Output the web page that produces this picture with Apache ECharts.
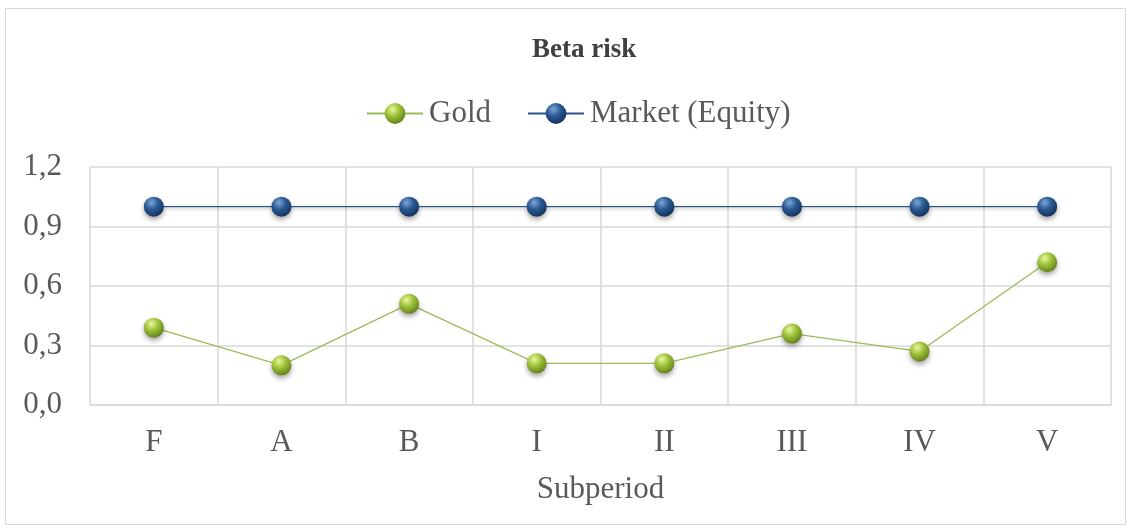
<!DOCTYPE html>
<html lang="en">
<head>
    <meta charset="UTF-8">
    <title>Beta risk</title>
    <script src="https://cdn.jsdelivr.net/npm/echarts@6/dist/echarts.min.js"></script>
    <style>
        html, body { margin: 0; padding: 0; background: #ffffff; }
        #chart { width: 1132px; height: 531px; }
    </style>
</head>
<body>
    <div id="chart"></div>
    <script>
        // data
        const subperiods = ['F', 'A', 'B', 'I', 'II', 'III', 'IV', 'V'];
        const goldBeta = [0.39, 0.20, 0.51, 0.21, 0.21, 0.36, 0.27, 0.72];
        const marketBeta = [1, 1, 1, 1, 1, 1, 1, 1];

        const font = "'Liberation Serif', 'DejaVu Serif', serif";

        // sphere-like marker fill
        function sphere(light, mid, dark) {
            return new echarts.graphic.RadialGradient(0.38, 0.3, 0.75, [
                { offset: 0, color: light },
                { offset: 0.45, color: mid },
                { offset: 1, color: dark }
            ]);
        }

        const chart = echarts.init(document.getElementById('chart'));

        chart.setOption({
            backgroundColor: '#ffffff',
            animation: false,
            title: {
                text: 'Beta risk',
                left: 527,
                top: 32,
                textStyle: { fontFamily: font, fontSize: 27, fontWeight: 'bold', color: '#404040' }
            },
            legend: {
                top: 93,
                left: 361,
                itemGap: 36,
                itemWidth: 56,
                itemHeight: 26,
                textStyle: { fontFamily: font, fontSize: 31, color: '#595959', padding: [0, 0, 0, 1] },
                data: ['Gold', 'Market (Equity)']
            },
            grid: { left: 90, right: 21, top: 167, bottom: 126 },
            xAxis: {
                type: 'category',
                data: subperiods,
                name: 'Subperiod',
                nameLocation: 'middle',
                nameGap: 69,
                nameTextStyle: { fontFamily: font, fontSize: 31, color: '#595959' },
                axisLine: { lineStyle: { color: '#d9d9d9', width: 1.5 } },
                axisTick: { show: false },
                axisLabel: { fontFamily: font, fontSize: 31, color: '#595959', margin: 22 },
                splitLine: { show: true, lineStyle: { color: '#d9d9d9', width: 1.5 } }
            },
            yAxis: {
                type: 'value',
                min: 0,
                max: 1.2,
                interval: 0.3,
                axisLine: { show: false },
                axisTick: { show: false },
                axisLabel: {
                    fontFamily: font, fontSize: 31, color: '#595959', margin: 28,
                    formatter: v => v.toFixed(1).replace('.', ',')
                },
                splitLine: { lineStyle: { color: '#d9d9d9', width: 1.5 } }
            },
            graphic: [{
                type: 'rect',
                shape: { x: 5.5, y: 8.5, width: 1120, height: 516 },
                style: { fill: 'none', stroke: '#d9d9d9', lineWidth: 1 },
                silent: true
            }],
            series: [{
                name: 'Gold',
                type: 'line',
                data: goldBeta,
                symbol: 'circle',
                symbolSize: 20,
                lineStyle: { color: '#9bbb59', width: 1.3 },
                itemStyle: {
                    color: sphere('#eaf7a0', '#9dc23a', '#5f7d18'),
                    shadowColor: 'rgba(0,0,0,0.35)', shadowBlur: 5, shadowOffsetY: 3
                },
                z: 3
            }, {
                name: 'Market (Equity)',
                type: 'line',
                data: marketBeta,
                symbol: 'circle',
                symbolSize: 20,
                lineStyle: { color: '#2d5688', width: 1.3, shadowColor: 'rgba(0,0,0,0.25)', shadowBlur: 3, shadowOffsetY: 2 },
                itemStyle: {
                    color: sphere('#7fa6d6', '#2a5a94', '#142f55'),
                    shadowColor: 'rgba(0,0,0,0.35)', shadowBlur: 5, shadowOffsetY: 3
                },
                z: 3
            }]
        });
    </script>
</body>
</html>
